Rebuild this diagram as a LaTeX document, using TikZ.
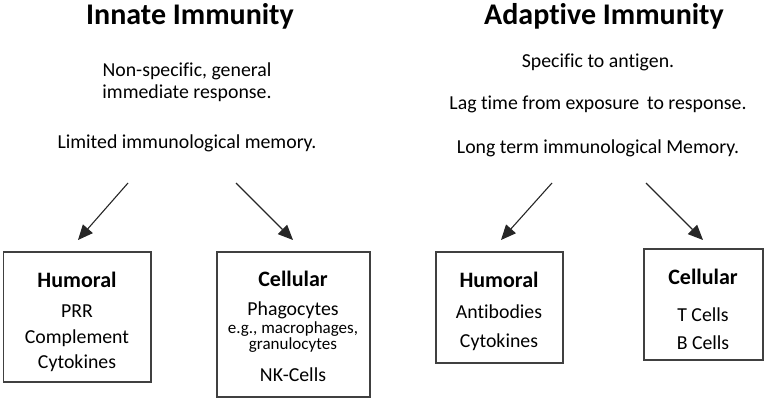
\documentclass[tikz,border=0pt]{standalone}
\usepackage{fontspec}
\setmainfont[Ligatures=NoCommon]{Carlito}
\usetikzlibrary{arrows.meta}
\begin{document}
\begin{tikzpicture}[x=1pt,y=-1pt,
  title/.style={anchor=base,inner sep=0pt,font=\fontsize{30}{30}\selectfont\bfseries},
  body/.style={anchor=base,inner sep=0pt,font=\fontsize{19.8}{20}\selectfont},
  head/.style={anchor=base,inner sep=0pt,font=\fontsize{22}{22}\selectfont\bfseries},
  item/.style={anchor=base,inner sep=0pt,font=\fontsize{19.8}{20}\selectfont},
  small/.style={anchor=base,inner sep=0pt,font=\fontsize{17}{17}\selectfont},
  boxr/.style={draw=black!75,line width=1.2pt},
  arr/.style={draw=black!85,line width=1.1pt,-{Triangle[length=15pt,width=13pt]}}]
\useasboundingbox (0,0) rectangle (767,401);
% titles
\node[title] (t1) at (190,25) {Innate Immunity};
\node[title] (t2) at (604,25) {Adaptive Immunity};
% descriptions
\node[body] (d1) at (187,77) {Non-specific, general};
\node[body] (d2) at (187,99) {immediate response.};
\node[body] (d3) at (187,148) {Limited immunological memory.};
\node[body] (e1) at (598,68) {Specific to antigen.};
\node[body] (e2) at (598,110) {Lag time from exposure\, to response.};
\node[body] (e3) at (598,153) {Long term immunological Memory.};
% boxes
\draw[boxr] (3.5,252) rectangle (151,382);
\draw[boxr] (217,252) rectangle (370,397);
\draw[boxr] (436,252) rectangle (563,363);
\draw[boxr] (644,249) rectangle (763,360);
% box texts
\node[head] (h1) at (77,287) {Humoral};
\node[item] (i1) at (77,317) {PRR};
\node[item] (i2) at (77,343) {Complement};
\node[item] (i3) at (77,368) {Cytokines};
\node[head] (h2) at (293,286) {Cellular};
\node[item] (j1) at (293,315) {Phagocytes};
\node[small] (j2) at (293,333) {e.g., macrophages,};
\node[small] (j3) at (293,349) {granulocytes};
\node[item] (j4) at (293,381) {NK-Cells};
\node[head] (h3) at (499,287) {Humoral};
\node[item] (k1) at (499,318) {Antibodies};
\node[item] (k2) at (499,347) {Cytokines};
\node[head] (h4) at (703,284) {Cellular};
\node[item] (l1) at (703,321) {T Cells};
\node[item] (l2) at (703,349) {B Cells};
% arrows
\coordinate (a1s) at (128,183); \coordinate (a1e) at (78,240);
\coordinate (a2s) at (236,183); \coordinate (a2e) at (293,240);
\coordinate (a3s) at (552,183); \coordinate (a3e) at (501,240);
\coordinate (a4s) at (646,183); \coordinate (a4e) at (703,240);
\draw[arr] (a1s) -- (a1e);
\draw[arr] (a2s) -- (a2e);
\draw[arr] (a3s) -- (a3e);
\draw[arr] (a4s) -- (a4e);
\end{tikzpicture}
\end{document}
